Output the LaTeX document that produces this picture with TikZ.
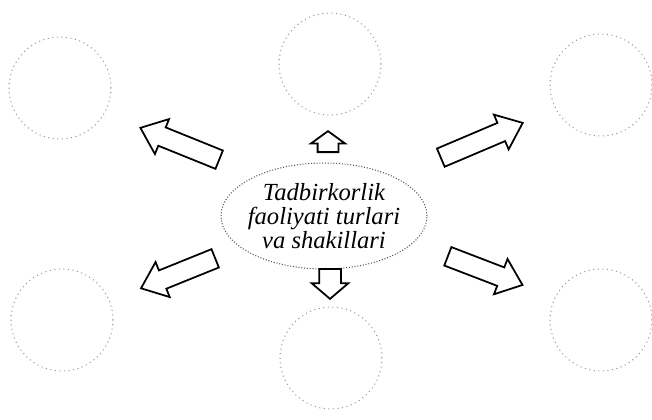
\documentclass[tikz,border=0pt]{standalone}
\usepackage{fontspec}
\setmainfont{Liberation Serif}
\usetikzlibrary{shapes.geometric, shapes.arrows}

\begin{document}
\begin{tikzpicture}[
    x=0.02cm, y=-0.02cm,
    core/.style={draw=black!65, densely dotted, line width=0.6pt, ellipse, minimum width=4.12cm, minimum height=2.12cm, inner xsep=-6pt, inner ysep=0pt, align=center, font=\fontsize{14}{13.5}\selectfont\itshape},
    sub/.style={draw=black!40, dotted, line width=0.6pt, circle, minimum size=2.04cm, inner sep=0pt},
    blk/.style={draw, single arrow, fill=white, line width=1pt, inner xsep=0pt, inner ysep=0.18cm, single arrow head extend=0.18cm, single arrow tip angle=78, anchor=tail},
]
\useasboundingbox (0,0) rectangle (652,419);

% Centre
\node[core] (core) at (324,216) {Tadbirkorlik\\faoliyati turlari\\va shakillari};

% Outer circles (top row, bottom row)
\node[sub] (tl) at (60,88) {};
\node[sub] (tc) at (330,64) {};
\node[sub] (tr) at (601,85) {};
\node[sub] (bl) at (62,320) {};
\node[sub] (bc) at (331,358) {};
\node[sub] (br) at (601,320) {};

% Block arrows from the centre
\node[blk, minimum height=1.7cm, rotate=158] (al) at (220,160) {};
\node[blk, minimum height=1.78cm, rotate=23] (ar) at (440,158) {};
\node[blk, minimum height=1.6cm, rotate=202] (bl2) at (216,258) {};
\node[blk, minimum height=1.6cm, rotate=-21] (br2) at (447,256) {};
\node[blk, minimum height=0.42cm, rotate=90, inner ysep=0.19cm, single arrow head extend=0.13cm, single arrow tip angle=108] (up) at (328,153) {};
\node[blk, minimum height=0.6cm, rotate=-90, inner ysep=0.2cm, single arrow head extend=0.15cm, single arrow tip angle=99] (dn) at (330,268) {};
\end{tikzpicture}
\end{document}
